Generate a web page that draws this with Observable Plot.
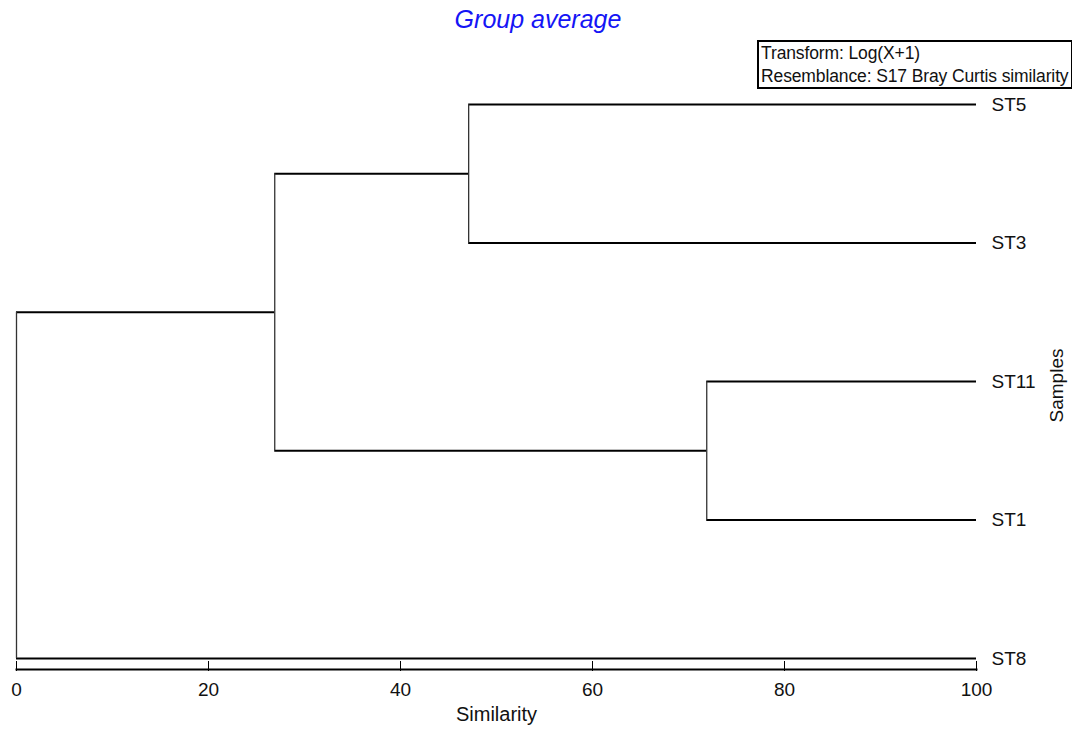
<!DOCTYPE html>
<html>
<head>
<meta charset="utf-8">
<script src="https://cdn.jsdelivr.net/npm/d3@7"></script>
<script src="https://cdn.jsdelivr.net/npm/@observablehq/plot@0.6"></script>
<style>
  html, body { margin: 0; padding: 0; background: #fff; }
  #wrap { position: relative; width: 1072px; height: 736px; font-family: "Liberation Sans", Arial, sans-serif; }
  #title { position: absolute; left: 0; width: 1076px; top: 5px; text-align: center; color: #1515f5; font-style: italic; font-size: 25px; }
  #box { position: absolute; left: 757px; top: 40px; width: 310px; height: 45px; border: 2px solid #000; font-size: 17.5px; letter-spacing: -0.12px; line-height: 23px; padding-left: 2px; box-sizing: content-box; color: #111; white-space: nowrap; }
  svg { display: block; }
</style>
</head>
<body>
<div id="wrap">
  <div id="chart"></div>
  <div id="title">Group average</div>
  <div id="box"><div>Transform: Log(X+1)</div><div>Resemblance: S17 Bray Curtis similarity</div></div>
</div>
<script>
// Leaves in display order (top to bottom)
const leaves = ["ST5", "ST3", "ST11", "ST1", "ST8"];
// Merge steps (group average), similarity level of each merge
const mergeName = ["N1", "N2", "N3", "N4"];
const mergeA = ["ST5", "ST11", "N1", "N3"];
const mergeB = ["ST3", "ST1", "N2", "ST8"];
const mergeSim = [47.1, 71.9, 26.9, 0];
const xTicks = [0, 20, 40, 60, 80, 100];

// Build node positions
const pos = new Map();
leaves.forEach((name, i) => pos.set(name, {x: 100, y: i}));
const hSegs = [];
const vSegs = [];
mergeName.forEach((name, i) => {
  const a = pos.get(mergeA[i]);
  const b = pos.get(mergeB[i]);
  const s = mergeSim[i];
  hSegs.push({x1: a.x, x2: s, y: a.y});
  hSegs.push({x1: b.x, x2: s, y: b.y});
  vSegs.push({x: s, y1: a.y, y2: b.y});
  pos.set(name, {x: s, y: (a.y + b.y) / 2});
});

const chart = Plot.plot({
  width: 1072,
  height: 736,
  marginLeft: 16,
  marginRight: 96,
  marginTop: 0,
  marginBottom: 67,
  style: {fontFamily: "'Liberation Sans', Arial, sans-serif", fontSize: "19px", color: "#000", background: "#fff"},
  x: {domain: [0, 100], ticks: xTicks},
  y: {domain: [0, leaves.length - 1], range: [104, 658], axis: null},
  marks: [
    Plot.ruleY(hSegs, {x1: "x1", x2: "x2", y: "y", stroke: "#000", strokeWidth: 2}),
    Plot.ruleX(vSegs, {x: "x", y1: "y1", y2: "y2", stroke: "#333", strokeWidth: 1.3}),
    Plot.text(leaves, {x: () => 100, y: (d, i) => i, text: d => d, textAnchor: "start", dx: 15, fontSize: 19, fill: "#111"}),
    Plot.text(["Samples"], {x: () => 100, y: () => 2, dx: 80, dy: 4, rotate: -90, text: d => d, fontSize: 19, fill: "#111"}),
    Plot.frame({anchor: "bottom", stroke: "#000", strokeWidth: 2}),
    Plot.tickX(xTicks, {x: d => d, insetTop: 661, stroke: "#000", strokeWidth: 1}),
    Plot.axisX({ticks: xTicks, tickSize: 2, tickPadding: 11, label: null, fontSize: 19, fill: "#111", tickFormat: d => String(d)}),
    Plot.text(["Similarity"], {frameAnchor: "bottom", dy: 51, text: d => d, fontSize: 20, fill: "#111"})
  ]
});
document.getElementById("chart").appendChild(chart);
</script>
</body>
</html>
